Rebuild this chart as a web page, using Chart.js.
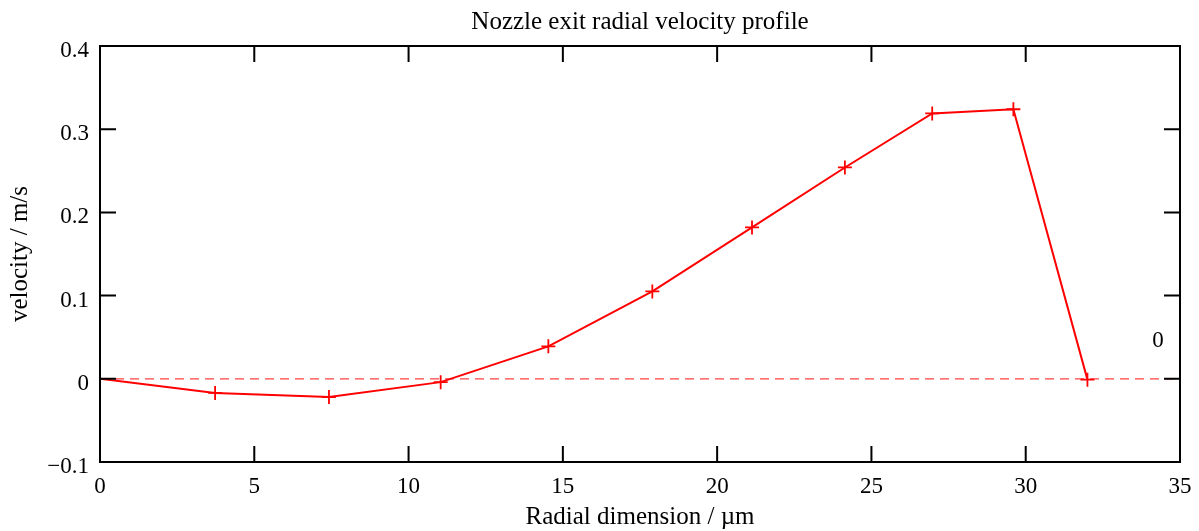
<!DOCTYPE html>
<html>
<head>
<meta charset="utf-8">
<title>Nozzle exit radial velocity profile</title>
<script src="https://cdn.jsdelivr.net/npm/chart.js@4"></script>
<style>
  body { margin: 0; background: #fff; }
</style>
</head>
<body>
<canvas id="myChart" width="1199" height="531"></canvas>
<script>
// data
const radio = [0, 3.73, 7.42, 11.04, 14.53, 17.9, 21.13, 24.14, 26.97, 29.6, 32.0];
const velocidad = [0, -0.017, -0.022, -0.004, 0.039, 0.105, 0.182, 0.254, 0.319, 0.324, -0.001];
const lineaCero = [[0, 0], [35, 0]];
const xTicks = [0, 5, 10, 15, 20, 25, 30, 35];
const yTicks = [-0.1, 0, 0.1, 0.2, 0.3, 0.4];

const fuente = 'Liberation Serif, Times New Roman, serif';
const ctx = document.querySelector('#myChart').getContext('2d');

const formatoY = v => {
    const r = Math.round(v * 10) / 10;
    return r < 0 ? '\u2212' + Math.abs(r) : String(r);
};

// gnuplot-style frame with inward ticks on all four sides
const marco = {
    id: 'marco',
    afterDatasetsDraw(chart) {
        const { ctx, chartArea: a, scales: { x, y } } = chart;
        const largo = 16;
        ctx.save();
        ctx.strokeStyle = '#000';
        ctx.lineWidth = 2;
        ctx.strokeRect(a.left, a.top, a.right - a.left, a.bottom - a.top);
        ctx.beginPath();
        xTicks.forEach(v => {
            const px = x.getPixelForValue(v);
            ctx.moveTo(px, a.bottom); ctx.lineTo(px, a.bottom - largo);
            ctx.moveTo(px, a.top); ctx.lineTo(px, a.top + largo);
        });
        yTicks.forEach(v => {
            const py = y.getPixelForValue(v);
            ctx.moveTo(a.left, py); ctx.lineTo(a.left + largo, py);
            ctx.moveTo(a.right, py); ctx.lineTo(a.right - largo, py);
        });
        ctx.stroke();
        ctx.fillStyle = '#000';
        ctx.font = '23px ' + fuente;
        ctx.textBaseline = 'middle';
        // y tick labels sit a little below their ticks, like gnuplot does
        ctx.textAlign = 'right';
        yTicks.forEach(v => {
            ctx.fillText(formatoY(v), a.left - 11, y.getPixelForValue(v) + 5);
        });
        // key text of the zero line
        ctx.textAlign = 'center';
        ctx.fillText('0', a.right - 22, a.top + 295);
        ctx.restore();
    }
};

new Chart(ctx, {
    type: 'line',
    data: {
        datasets: [{
            label: 'velocidad',
            data: radio.map((r, i) => ({ x: r, y: velocidad[i] })),
            borderColor: '#ff0000',
            borderWidth: 2,
            pointStyle: 'cross',
            pointRadius: 7,
            pointBorderWidth: 1.8,
            pointBorderColor: '#ff0000',
            tension: 0
        }, {
            label: '0',
            data: lineaCero.map(p => ({ x: p[0], y: p[1] })),
            borderColor: 'rgba(255, 0, 0, 0.75)',
            borderWidth: 1.2,
            borderDash: [9, 6],
            pointRadius: 0
        }]
    },
    options: {
        responsive: false,
        animation: false,
        layout: { padding: { left: 0, right: 19, top: 0, bottom: 0 } },
        plugins: {
            legend: { display: false },
            tooltip: { enabled: false },
            title: {
                display: true,
                text: 'Nozzle exit radial velocity profile',
                fullSize: false,
                color: '#000',
                font: { family: fuente, size: 25, weight: 'normal' },
                padding: { top: 7, bottom: 9 }
            }
        },
        scales: {
            x: {
                type: 'linear',
                min: 0,
                max: 35,
                afterFit: s => {
                    s.height = 69;
                    s.paddingLeft = 0;
                    s.paddingRight = 0;
                },
                afterBuildTicks: s => { s.ticks = xTicks.map(v => ({ value: v })); },
                grid: { display: false, drawTicks: false },
                border: { display: false },
                ticks: {
                    color: '#000',
                    padding: 11,
                    maxRotation: 0,
                    font: { family: fuente, size: 23 }
                },
                title: {
                    display: true,
                    text: 'Radial dimension / \u00b5m',
                    color: '#000',
                    font: { family: fuente, size: 25 },
                    padding: { top: 0, bottom: -1 }
                }
            },
            y: {
                type: 'linear',
                min: -0.1,
                max: 0.4,
                afterFit: s => { s.width = 100; },
                afterBuildTicks: s => { s.ticks = yTicks.map(v => ({ value: v })); },
                grid: { display: false, drawTicks: false },
                border: { display: false },
                ticks: { display: false },
                title: {
                    display: true,
                    text: 'velocity / m/s',
                    color: '#000',
                    font: { family: fuente, size: 25 },
                    padding: { top: 5, bottom: 0 }
                }
            }
        }
    },
    plugins: [marco]
});
</script>
</body>
</html>
